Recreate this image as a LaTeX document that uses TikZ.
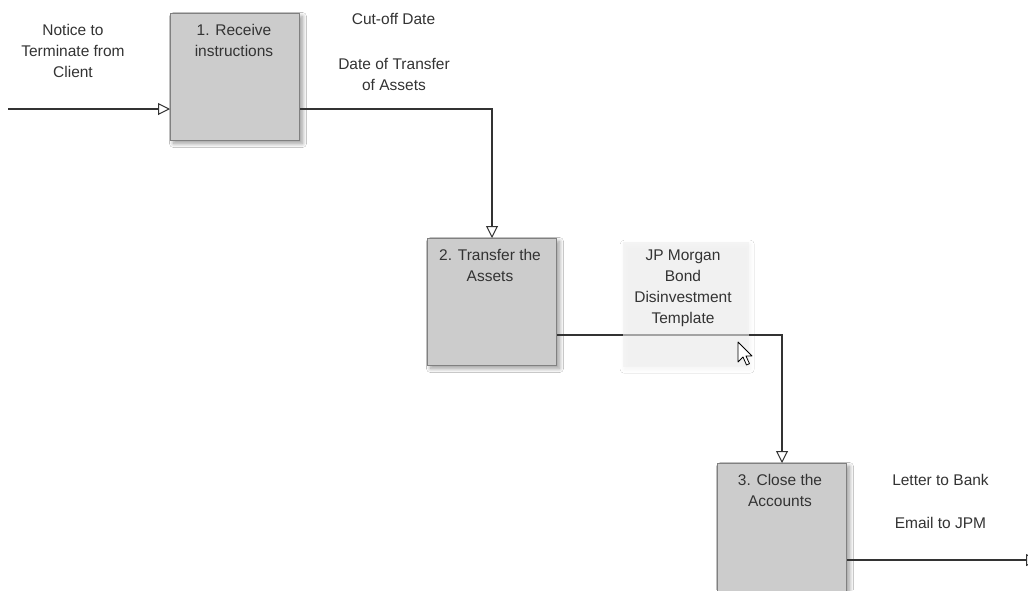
\documentclass[tikz,border=0pt]{standalone}
\usepackage{fontspec}
\setmainfont{Liberation Sans}
\usetikzlibrary{arrows.meta,shadows.blur}
\definecolor{ink}{HTML}{333333}
\definecolor{boxfill}{HTML}{CCCCCC}
\definecolor{boxline}{HTML}{808080}
\definecolor{notefill}{HTML}{F0F0F0}
\begin{document}
\begin{tikzpicture}[x=1pt,y=-1pt,
  stepbox/.style={draw=boxline, fill=boxfill, line width=1pt,
    minimum width=129pt, minimum height=127pt, anchor=north west, inner sep=0pt,
    blur shadow={shadow xshift=3pt, shadow yshift=-3pt, shadow blur radius=4pt, shadow opacity=40, shadow blur steps=12}},
  notebox/.style={fill=notefill, fill opacity=0.6, draw=none,
    minimum width=126pt, minimum height=125pt, anchor=north west, inner sep=0pt,
    blur shadow={shadow xshift=1pt, shadow yshift=-2pt, shadow blur radius=4pt, shadow opacity=8, shadow blur steps=12}},
  txt/.style={text=ink, align=center, font=\fontsize{15.5}{21}\selectfont, inner sep=0pt},
  flow/.style={draw=ink, line width=1.1pt,
    -{Triangle[length=12pt, width=12pt, fill=white, line width=1pt]}},
]
\clip (0,0) rectangle (1028,590);
\fill[white] (0,0) rectangle (1028,590);

% process steps
\node[stepbox] (b1) at (170,13) {};
\node[stepbox] (b2) at (427,238) {};
\node[stepbox, minimum height=140pt] (b3) at (717,463) {};

% free ends of the flow
\coordinate (in) at (8,109);
\coordinate (out) at (1038,560);

% connectors
\draw[flow] (in) -- (in -| b1.west);
\draw[flow] (b1.north east) ++(0,96) -| (b2.north);
\draw[flow] (b2.north east) ++(0,97) -| (b3.north);
\draw[flow] (b3.north east) ++(0,97) -- (out);

% template note, laid over the connector
\node[notebox] (tmpl) at (623,242) {};

% step titles
\node[txt] (t1) at (234,40.5) {1. Receive\\instructions};
\node[txt] (t2) at (490,265.5) {2. Transfer the\\Assets};
\node[txt] (t3) at (780,490.5) {3. Close the\\Accounts};

% inputs, controls and outputs
\node[txt] (notice) at (73,51) {Notice to\\Terminate from\\Client};
\node[txt] (cutoff) at (393.5,19) {Cut-off Date};
\node[txt] (transfer) at (394,74.5) {Date of Transfer\\of Assets};
\node[txt] (jpm) at (683,288.5) {JP Morgan\\Bond\\Disinvestment\\Template};
\node[txt] (letter) at (940.5,480) {Letter to Bank};
\node[txt] (email) at (940.5,523) {Email to JPM};

% mouse pointer
\draw[fill=white, draw=black, line width=0.8pt, line join=round]
  (738,342) -- (738,362) -- (743,357) -- (746.5,365) -- (749.5,363.7)
  -- (746,356) -- (752,356) -- cycle;
\end{tikzpicture}
\end{document}
